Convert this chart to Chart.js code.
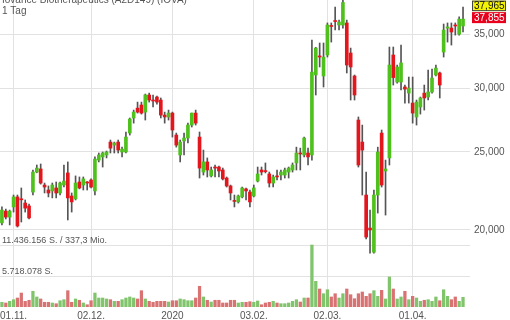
<!DOCTYPE html>
<html>
<head>
<meta charset="utf-8">
<script src="https://cdn.jsdelivr.net/npm/chart.js@4.4.1/dist/chart.umd.min.js"></script>
<style>
    html, body { margin: 0; padding: 0; background: #fff; }
</style>
</head>
<body>
<canvas id="myChart" width="510" height="320"></canvas>
<script>
// Tagesdaten (Kerzen), Index = Handelstag
const opens = [20.41, 21.11, 20.75, 21.36, 21.98, 21.86, 21.60, 21.42, 22.29, 23.60,
    23.81, 22.74, 22.42, 22.36, 22.55, 22.23, 22.74, 23.54, 22.04, 21.86,
    22.94, 22.74, 22.94, 23.07, 22.36, 24.42, 24.64, 24.78, 25.71, 25.49,
    25.71, 24.99, 24.99, 26.38, 27.54, 28.33, 28.58, 28.01, 29.41, 28.99,
    29.24, 28.99, 27.77, 27.62, 27.93, 26.23, 24.78, 25.79, 26.01, 26.99,
    27.93, 26.08, 23.60, 24.29, 23.34, 23.94, 23.94, 23.74, 23.20, 22.68,
    21.76, 21.67, 21.98, 22.49, 22.29, 22.04, 23.00, 23.74, 23.67, 23.47,
    22.87, 23.34, 23.40, 23.40, 23.60, 23.74, 24.22, 24.92, 24.78, 24.92,
    24.78, 31.14, 32.88, 31.05, 32.97, 35.87, 36.38, 35.92, 35.92, 36.13,
    33.16, 31.05, 27.38, 25.71, 22.10, 20.11, 18.77, 22.10, 26.38, 23.67,
    24.57, 32.97, 30.52, 30.52, 30.09, 29.57, 28.74, 27.62, 28.42, 29.57,
    29.24, 29.66, 31.14, 31.32, 33.25, 35.60, 35.61, 35.92, 34.99, 35.82];

const closes = [21.17, 20.75, 21.11, 21.98, 20.23, 21.80, 21.29, 20.70, 23.60, 23.87,
    22.87, 22.61, 22.23, 22.74, 22.23, 22.87, 23.00, 21.92, 21.67, 22.87,
    22.55, 23.14, 22.87, 22.61, 24.49, 24.78, 24.92, 24.99, 25.27, 25.64,
    25.13, 25.20, 26.08, 27.46, 28.01, 28.01, 27.93, 29.41, 28.99, 28.91,
    28.82, 27.77, 27.62, 27.93, 26.61, 25.49, 25.71, 26.01, 26.99, 27.93,
    27.14, 23.87, 24.29, 23.74, 23.74, 23.87, 23.67, 23.14, 22.68, 22.23,
    21.70, 22.04, 22.55, 22.36, 21.67, 22.55, 23.47, 23.60, 23.63, 22.87,
    23.27, 23.27, 23.60, 23.74, 23.87, 24.08, 24.92, 24.85, 26.01, 24.64,
    31.40, 33.63, 32.78, 32.78, 35.92, 35.77, 36.28, 36.23, 38.30, 32.04,
    31.86, 29.41, 24.08, 25.13, 19.60, 20.00, 22.10, 24.99, 22.74, 23.81,
    32.04, 30.91, 31.86, 32.23, 29.91, 30.00, 27.93, 28.82, 29.16, 29.16,
    29.66, 30.87, 31.76, 30.26, 35.41, 35.72, 35.21, 35.82, 36.53, 36.53];

const highs = [21.36, 21.23, 21.17, 22.10, 22.10, 22.55, 21.79, 21.54, 23.74, 24.08,
    24.15, 22.87, 22.68, 22.87, 22.94, 22.94, 24.08, 24.29, 22.23, 23.34,
    23.27, 23.27, 22.97, 23.14, 24.64, 24.92, 24.99, 25.06, 25.86, 25.71,
    25.86, 25.34, 26.46, 27.54, 28.17, 28.82, 28.82, 29.49, 29.57, 29.41,
    29.33, 29.16, 28.01, 28.17, 28.01, 26.38, 25.86, 26.38, 27.14, 27.93,
    28.17, 26.46, 25.13, 24.57, 23.94, 24.08, 24.01, 23.87, 23.27, 22.74,
    22.10, 22.10, 22.61, 22.55, 22.42, 22.74, 23.94, 23.94, 24.22, 23.60,
    23.40, 23.74, 23.74, 23.87, 23.94, 24.22, 25.34, 25.27, 26.08, 25.27,
    34.41, 33.70, 34.12, 34.12, 36.13, 36.13, 37.81, 36.43, 38.90, 36.43,
    33.63, 31.14, 27.62, 26.99, 23.60, 21.17, 22.42, 25.34, 26.61, 24.42,
    33.73, 33.73, 32.04, 33.92, 30.26, 30.96, 30.96, 28.99, 29.24, 30.26,
    31.58, 31.67, 32.04, 31.40, 36.02, 36.13, 36.13, 36.13, 36.77, 37.81];

const lows = [20.29, 20.64, 20.29, 21.05, 20.17, 20.46, 21.05, 20.64, 22.10, 23.55,
    22.80, 22.23, 21.98, 21.92, 21.92, 22.10, 22.61, 20.58, 21.05, 21.79,
    22.49, 22.42, 22.42, 22.55, 22.10, 24.29, 23.94, 24.57, 24.92, 24.92,
    24.92, 24.64, 24.92, 26.23, 27.14, 27.93, 27.85, 27.38, 28.82, 28.42,
    28.66, 27.54, 27.14, 27.38, 26.08, 25.34, 24.29, 24.78, 25.64, 26.84,
    26.99, 23.20, 23.40, 23.27, 23.27, 23.27, 23.27, 23.07, 22.61, 21.79,
    21.36, 21.60, 21.92, 21.79, 21.36, 21.98, 22.94, 23.40, 23.54, 22.61,
    22.61, 23.07, 23.07, 23.20, 23.20, 23.60, 23.74, 23.74, 24.64, 24.08,
    24.42, 29.41, 31.86, 30.09, 32.78, 34.21, 35.41, 35.41, 35.60, 31.32,
    28.99, 28.99, 23.94, 22.10, 19.49, 18.72, 18.72, 20.99, 22.61, 20.87,
    24.08, 30.26, 30.43, 29.83, 28.74, 28.74, 27.14, 26.99, 27.85, 28.17,
    28.99, 29.57, 31.05, 29.16, 32.78, 34.21, 33.92, 34.90, 34.90, 35.21];

// Umsatz in Mio. Stueck
const volumes = [0.87, 0.74, 1.05, 1.35, 1.66, 2.58, 1.05, 1.24, 2.90, 1.85,
    1.48, 0.87, 0.87, 0.74, 0.61, 1.16, 1.35, 3.01, 0.87, 1.48,
    1.24, 0.74, 0.42, 1.16, 2.58, 1.66, 1.66, 1.48, 1.35, 1.05,
    1.05, 1.35, 1.66, 1.85, 1.66, 1.48, 3.01, 1.48, 1.05, 0.87,
    1.05, 1.05, 1.05, 0.92, 1.16, 1.16, 1.48, 1.35, 1.16, 1.16,
    1.66, 3.82, 1.85, 1.24, 0.92, 1.24, 1.24, 0.74, 0.74, 1.24,
    1.24, 0.74, 0.87, 0.87, 0.98, 0.87, 1.11, 0.42, 0.74, 0.87,
    1.05, 0.74, 0.61, 0.61, 0.74, 1.05, 1.35, 0.92, 1.66, 1.66,
    11.436, 4.74, 3.32, 2.45, 3.19, 1.85, 2.45, 1.66, 2.45, 3.32,
    2.27, 1.53, 2.45, 2.77, 1.97, 2.45, 3.01, 1.97, 3.08, 1.48,
    5.54, 3.32, 1.48, 1.85, 2.90, 1.35, 1.97, 1.66, 1.05, 1.24,
    1.35, 1.05, 1.85, 1.16, 3.19, 1.97, 1.35, 1.85, 1.05, 1.79];

// Achsen
const dateTickPos = [3, 23, 44, 65, 84, 106];
const dateTickLabels = ['01.11.', '02.12.', '2020', '03.02.', '02.03.', '01.04.'];
const priceTicks = [20, 25, 30, 35];
const volTicks = [5.718078, 11.436156];
const volTickLabels = ['5.718.078 S.', '11.436.156 S. / 337,3 Mio.'];

const titleText = 'Iovance Biotherapeutics (A2D149) (IOVA)';
const periodText = '1 Tag';
const bidPrice = 37.965;
const askPrice = 37.855;

const GREEN = '#4fc11d';
const RED = '#e3161d';
const VOL_GREEN = '#80c46c';
const VOL_RED = '#d97272';
const GRID = '#e2e2e2';
const FONT = 'Arial, "Liberation Sans", sans-serif';

let isUp = (i) => closes[i] >= opens[i];

let overlay = {
    id: 'overlay',
    afterDraw(chart) {
        const ctx = chart.ctx;
        const price = chart.scales.price;
        const vol = chart.scales.vol;
        ctx.save();
        ctx.font = '10px ' + FONT;
        ctx.fillStyle = '#555';
        ctx.textAlign = 'left';
        ctx.textBaseline = 'alphabetic';
        ctx.fillText(titleText, 2, 3);
        ctx.fillText(periodText, 2, 14);

        // Volumen-Beschriftung
        ctx.font = '9px ' + FONT;
        volTicks.forEach((v, k) => {
            ctx.fillText(volTickLabels[k], 2, vol.getPixelForValue(v) - 2);
        });

        // Kursmarken rechts
        ctx.font = '10px ' + FONT;
        const py = price.getPixelForValue(bidPrice);
        const x0 = chart.chartArea.right + 2;
        ctx.fillStyle = '#f4f400';
        ctx.fillRect(x0, py - 5, 34, 10.5);
        ctx.fillStyle = '#e8001c';
        ctx.fillRect(x0, py + 6.5, 34, 11);
        ctx.strokeStyle = '#444';
        ctx.lineWidth = 1;
        ctx.strokeRect(x0 + 0.5, py - 4.5, 33, 9.5);
        ctx.textBaseline = 'middle';
        ctx.fillStyle = '#111';
        ctx.fillText(bidPrice.toFixed(3).replace('.', ','), x0 + 2, py + 0.5);
        ctx.fillStyle = '#fff';
        ctx.fillText(askPrice.toFixed(3).replace('.', ','), x0 + 2, py + 12.5);
        ctx.restore();
    }
};

// Achsen ohne Rand fuer halbe Beschriftungshoehe
let noPad = (s, w) => {
    s.width = w;
    s.paddingTop = 0;
    s.paddingBottom = 0;
};

let plot = () => {
    const ctx = document.getElementById('myChart');

    const dataset = {
        datasets: [{
            label: 'Körper',
            data: opens.map((o, i) => ({ x: i, y: [o, closes[i]] })),
            backgroundColor: opens.map((o, i) => isUp(i) ? GREEN : RED),
            barThickness: 3,
            minBarLength: 1,
            grouped: false,
            yAxisID: 'price',
            order: 1
        }, {
            label: 'Docht',
            data: lows.map((l, i) => ({ x: i, y: [l, highs[i]] })),
            backgroundColor: '#555',
            barThickness: 1,
            grouped: false,
            yAxisID: 'price',
            order: 2
        }, {
            label: 'Volumen',
            data: volumes.map((v, i) => ({ x: i, y: v })),
            backgroundColor: volumes.map((v, i) => isUp(i) ? VOL_GREEN : VOL_RED),
            barThickness: 2.6,
            grouped: false,
            yAxisID: 'vol',
            order: 3
        }]
    };

    const config = {
        type: 'bar',
        data: dataset,
        plugins: [overlay],
        options: {
            responsive: false,
            animation: false,
            layout: { padding: 0, autoPadding: false },
            plugins: { legend: { display: false }, tooltip: { enabled: false } },
            scales: {
                x: {
                    type: 'linear',
                    min: -0.5,
                    max: 120.8,
                    offset: false,
                    afterBuildTicks: (s) => { s.ticks = dateTickPos.map(v => ({ value: v })); },
                    afterFit: (s) => { s.height = 13; s.paddingLeft = 0; s.paddingRight = 0; },
                    grid: { color: GRID, drawTicks: false, offset: false },
                    border: { display: false },
                    ticks: {
                        autoSkip: false,
                        maxRotation: 0,
                        padding: 3,
                        color: '#555',
                        font: { family: FONT, size: 10 },
                        callback: (v) => dateTickLabels[dateTickPos.indexOf(v)]
                    }
                },
                price: {
                    type: 'logarithmic',
                    position: 'right',
                    min: 16.05,
                    max: 38.58,
                    bounds: 'data',
                    afterBuildTicks: (s) => { s.ticks = priceTicks.map(v => ({ value: v })); },
                    afterFit: (s) => noPad(s, 40),
                    grid: { color: GRID, drawTicks: false },
                    border: { display: false },
                    ticks: {
                        padding: 4,
                        color: '#555',
                        font: { family: FONT, size: 10 },
                        callback: (v) => v.toFixed(3).replace('.', ',')
                    }
                },
                vol: {
                    type: 'linear',
                    position: 'left',
                    min: 0,
                    // 11.436.156 liegt 62 px ueber der Basis, Plot 307 px hoch
                    max: 11.436156 * 307 / 62,
                    bounds: 'data',
                    afterBuildTicks: (s) => { s.ticks = volTicks.map(v => ({ value: v })); },
                    afterFit: (s) => noPad(s, 0),
                    grid: { color: GRID, drawTicks: false },
                    border: { display: false },
                    ticks: { display: false }
                }
            }
        }
    };

    const chart = new Chart(ctx, config);
};

plot();
</script>
</body>
</html>
